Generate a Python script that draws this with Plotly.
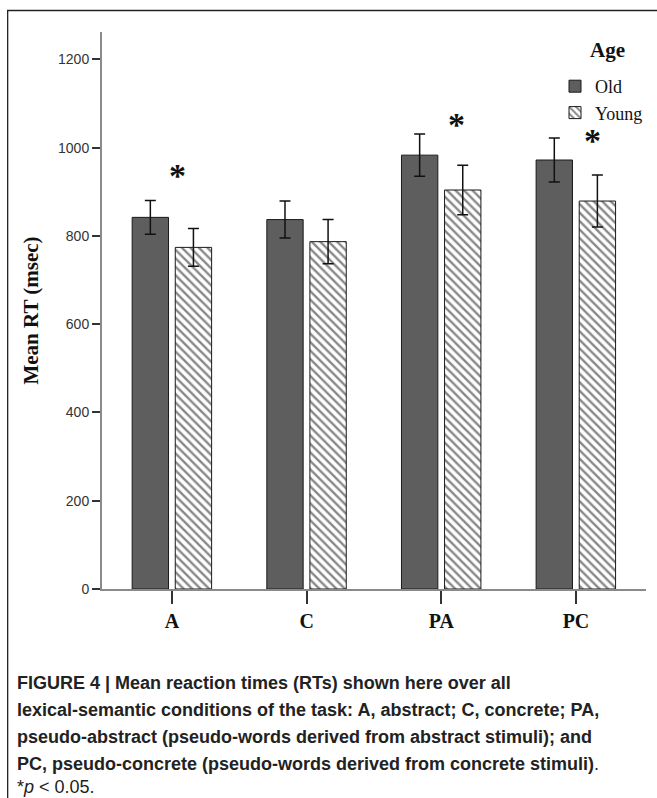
import plotly.graph_objects as go

categories = ["A", "C", "PA", "PC"]
old_means = [842, 837, 983, 972]
old_err = [38, 42, 48, 50]
young_means = [774, 787, 904, 879]
young_err = [43, 50, 56, 59]
y_ticks = [0, 200, 400, 600, 800, 1000, 1200]
# significance markers: (category position, y value)
star_x = [0.04, 2.11, 3.12]
star_y = [943, 1060, 1024]

caption_lines = [
    "<b>FIGURE 4 | Mean reaction times (RTs) shown here over all</b>",
    "<b>lexical-semantic conditions of the task: A, abstract; C, concrete; PA,</b>",
    "<b>pseudo-abstract (pseudo-words derived from abstract stimuli); and</b>",
    "<b>PC, pseudo-concrete (pseudo-words derived from concrete stimuli)</b>.",
    "*<i>p</i> &lt; 0.05.",
]

W, H = 657, 798
L, R, T, B = 102, 10, 32, 209
PW, PH = W - L - R, H - T - B

def px_to_paper_x(px):
    return (px - L) / PW

def px_to_paper_y(py):
    return (H - B - py) / PH

xi = list(range(len(categories)))
bw = 0.27

fig = go.Figure()
fig.add_trace(go.Bar(
    name="Old", x=xi, y=old_means, width=bw, offset=-0.296,
    marker=dict(color="#5e5e5e", line=dict(color="#1a1a1a", width=1)),
    error_y=dict(type="data", array=old_err, color="#111", thickness=1.5, width=5.5),
))
fig.add_trace(go.Bar(
    name="Young", x=xi, y=young_means, width=bw, offset=0.024,
    marker=dict(color="white", line=dict(color="#1a1a1a", width=1),
                pattern=dict(shape="\\", size=6, solidity=0.4, fgcolor="#111", bgcolor="white")),
    error_y=dict(type="data", array=young_err, color="#111", thickness=1.5, width=5.5),
))

for sx, sy in zip(star_x, star_y):
    fig.add_annotation(x=sx, y=sy, xref="x", yref="y", text="<b>*</b>", showarrow=False,
                       font=dict(family="Liberation Serif", size=34, color="#111"),
                       yanchor="middle", yshift=-3)

# legend title
fig.add_annotation(x=px_to_paper_x(608), y=px_to_paper_y(50), xref="paper", yref="paper",
                   text="<b>Age</b>", showarrow=False, xanchor="center", yanchor="middle",
                   font=dict(family="Liberation Serif", size=21, color="#111"))

cap_y = [683, 710, 737, 764, 787]
for line, cy in zip(caption_lines, cap_y):
    fig.add_annotation(x=px_to_paper_x(15), y=px_to_paper_y(cy), xref="paper", yref="paper",
                       text=line, showarrow=False, xanchor="left", yanchor="middle", align="left",
                       font=dict(family="Liberation Sans", size=18, color="#222"))

# outer frame
fig.add_shape(type="rect", xref="paper", yref="paper",
              x0=px_to_paper_x(7.5), x1=px_to_paper_x(700),
              y0=px_to_paper_y(850), y1=px_to_paper_y(10.5),
              line=dict(color="#222", width=1.3), fillcolor="rgba(0,0,0,0)", layer="below")

fig.update_layout(
    width=W, height=H,
    margin=dict(l=L, r=R, t=T, b=B),
    paper_bgcolor="white", plot_bgcolor="white",
    barmode="overlay",
    showlegend=True,
    legend=dict(
        font=dict(family="Liberation Serif", size=18, color="#111"),
        x=px_to_paper_x(555), xanchor="left",
        y=px_to_paper_y(68), yanchor="top",
        bgcolor="rgba(0,0,0,0)", borderwidth=0,
        tracegroupgap=0, itemwidth=30,
    ),
    xaxis=dict(
        range=[-0.52, 3.52], tickvals=xi, ticktext=["<b>%s</b>" % c for c in categories],
        showline=True, linecolor="#8a8a8a", linewidth=2,
        ticks="outside", ticklen=13, tickcolor="#333", tickwidth=1.5,
        tickfont=dict(family="Liberation Serif", size=20, color="#111"),
        showgrid=False, zeroline=False, fixedrange=True,
    ),
    yaxis=dict(
        range=[0, 1262], tickvals=y_ticks,
        showline=True, linecolor="#8a8a8a", linewidth=2,
        ticks="outside", ticklen=8, tickcolor="#333", tickwidth=1.5,
        tickfont=dict(family="Liberation Sans", size=14, color="#333"),
        title=dict(text="<b>Mean RT (msec)</b>", standoff=14,
                   font=dict(family="Liberation Serif", size=21, color="#111")),
        showgrid=False, zeroline=False, fixedrange=True,
    ),
)

fig.write_html("out.html")
